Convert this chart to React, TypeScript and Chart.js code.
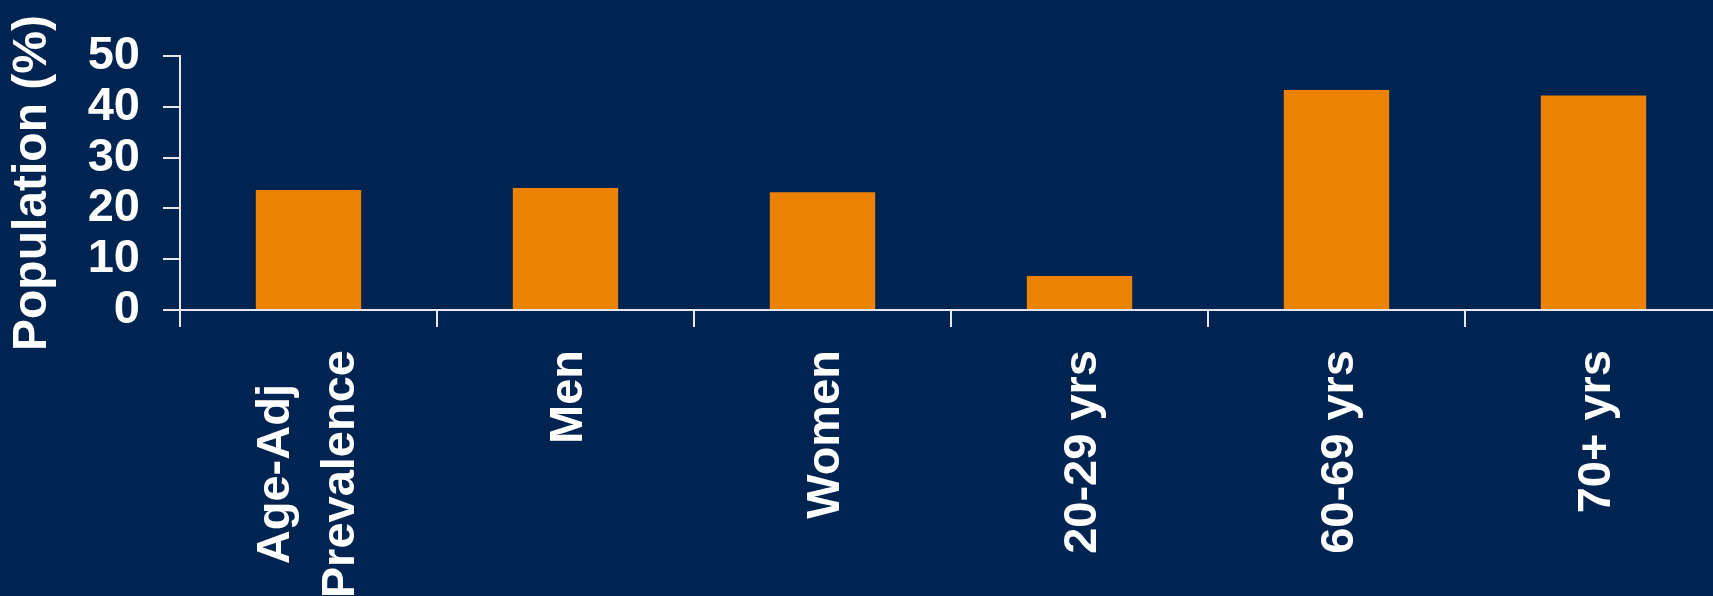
import React, { useEffect, useRef } from "react";
import { Chart, registerables } from "chart.js";

Chart.register(...registerables);

const categories: string[][] = [
  ["Age-Adj", "Prevalence"],
  ["Men"],
  ["Women"],
  ["20-29 yrs"],
  ["60-69 yrs"],
  ["70+ yrs"],
];
const values: number[] = [23.6, 24.0, 23.2, 6.7, 43.3, 42.2];
const yTicks: number[] = [0, 10, 20, 30, 40, 50];
const yTitle = "Population (%)";

const BG = "#002452";
const BAR = "#EB8200";
const FG = "#FFFFFF";
const AXIS = "#E6E8EE";
const FONT = "'Liberation Sans', Arial, sans-serif";
const FSIZE = 47;

const xLabelPlugin = {
  id: "xLabels",
  afterDraw(chart: any) {
    const scale = chart.scales.x;
    const ctx = chart.ctx;
    const lh = 65;
    const capH = FSIZE * 0.716;
    const yTop = scale.top + 40;
    ctx.save();
    ctx.font = `bold ${FSIZE}px ${FONT}`;
    ctx.fillStyle = FG;
    ctx.textAlign = "center";
    ctx.textBaseline = "alphabetic";
    categories.forEach((lines, i) => {
      const x = scale.getPixelForTick(i);
      const w = Math.max(...lines.map((l) => ctx.measureText(l).width));
      const n = lines.length;
      const shift = n > 1 ? -4 : 0;
      lines.forEach((line, j) => {
        ctx.save();
        ctx.translate(x, yTop);
        ctx.rotate(-Math.PI / 2);
        ctx.fillText(line, -w / 2, capH / 2 + (j - (n - 1) / 2) * lh + shift);
        ctx.restore();
      });
    });
    ctx.restore();
  },
};

export default function App() {
  const ref = useRef<HTMLCanvasElement | null>(null);
  useEffect(() => {
    if (!ref.current) return;
    const chart = new Chart(ref.current, {
      type: "bar",
      data: {
        labels: categories.map((c) => c.join(" ")),
        datasets: [
          {
            data: values,
            backgroundColor: BAR,
            borderWidth: 0,
            barPercentage: 0.41,
            categoryPercentage: 1,
          },
        ],
      },
      options: {
        animation: false,
        responsive: false,
        maintainAspectRatio: false,
        layout: { padding: { top: 56, right: 8, left: 0, bottom: 0 } },
        plugins: { legend: { display: false }, tooltip: { enabled: false } },
        scales: {
          x: {
            offset: true,
            grid: {
              offset: true,
              drawOnChartArea: false,
              drawTicks: true,
              tickLength: 17,
              color: AXIS,
              lineWidth: 2,
            },
            border: { display: true, color: AXIS, width: 2 },
            ticks: { display: false },
            afterFit: (s: any) => {
              s.height = 286;
            },
          },
          y: {
            min: 0,
            max: 50,
            afterBuildTicks: (s: any) => {
              s.ticks = yTicks.map((v) => ({ value: v }));
            },
            grid: {
              drawOnChartArea: false,
              drawTicks: true,
              tickLength: 17,
              color: AXIS,
              lineWidth: 2,
            },
            border: { display: true, color: AXIS, width: 2 },
            ticks: {
              color: FG,
              padding: 23,
              autoSkip: false,
              font: { family: FONT, size: FSIZE, weight: "bold" },
            },
            title: {
              display: true,
              text: yTitle,
              color: FG,
              padding: { top: 4, bottom: 0 },
              font: { family: FONT, size: 48, weight: "bold" },
            },
            afterFit: (s: any) => {
              s.width = 180;
            },
          },
        },
      },
      plugins: [xLabelPlugin],
    });
    return () => chart.destroy();
  }, []);
  return (
    <div
      style={{
        position: "fixed",
        left: 0,
        top: 0,
        width: 1713,
        height: 596,
        overflow: "hidden",
        background: BG,
      }}
    >
      <canvas ref={ref} width={1730} height={596} style={{ display: "block" }} />
    </div>
  );
}
